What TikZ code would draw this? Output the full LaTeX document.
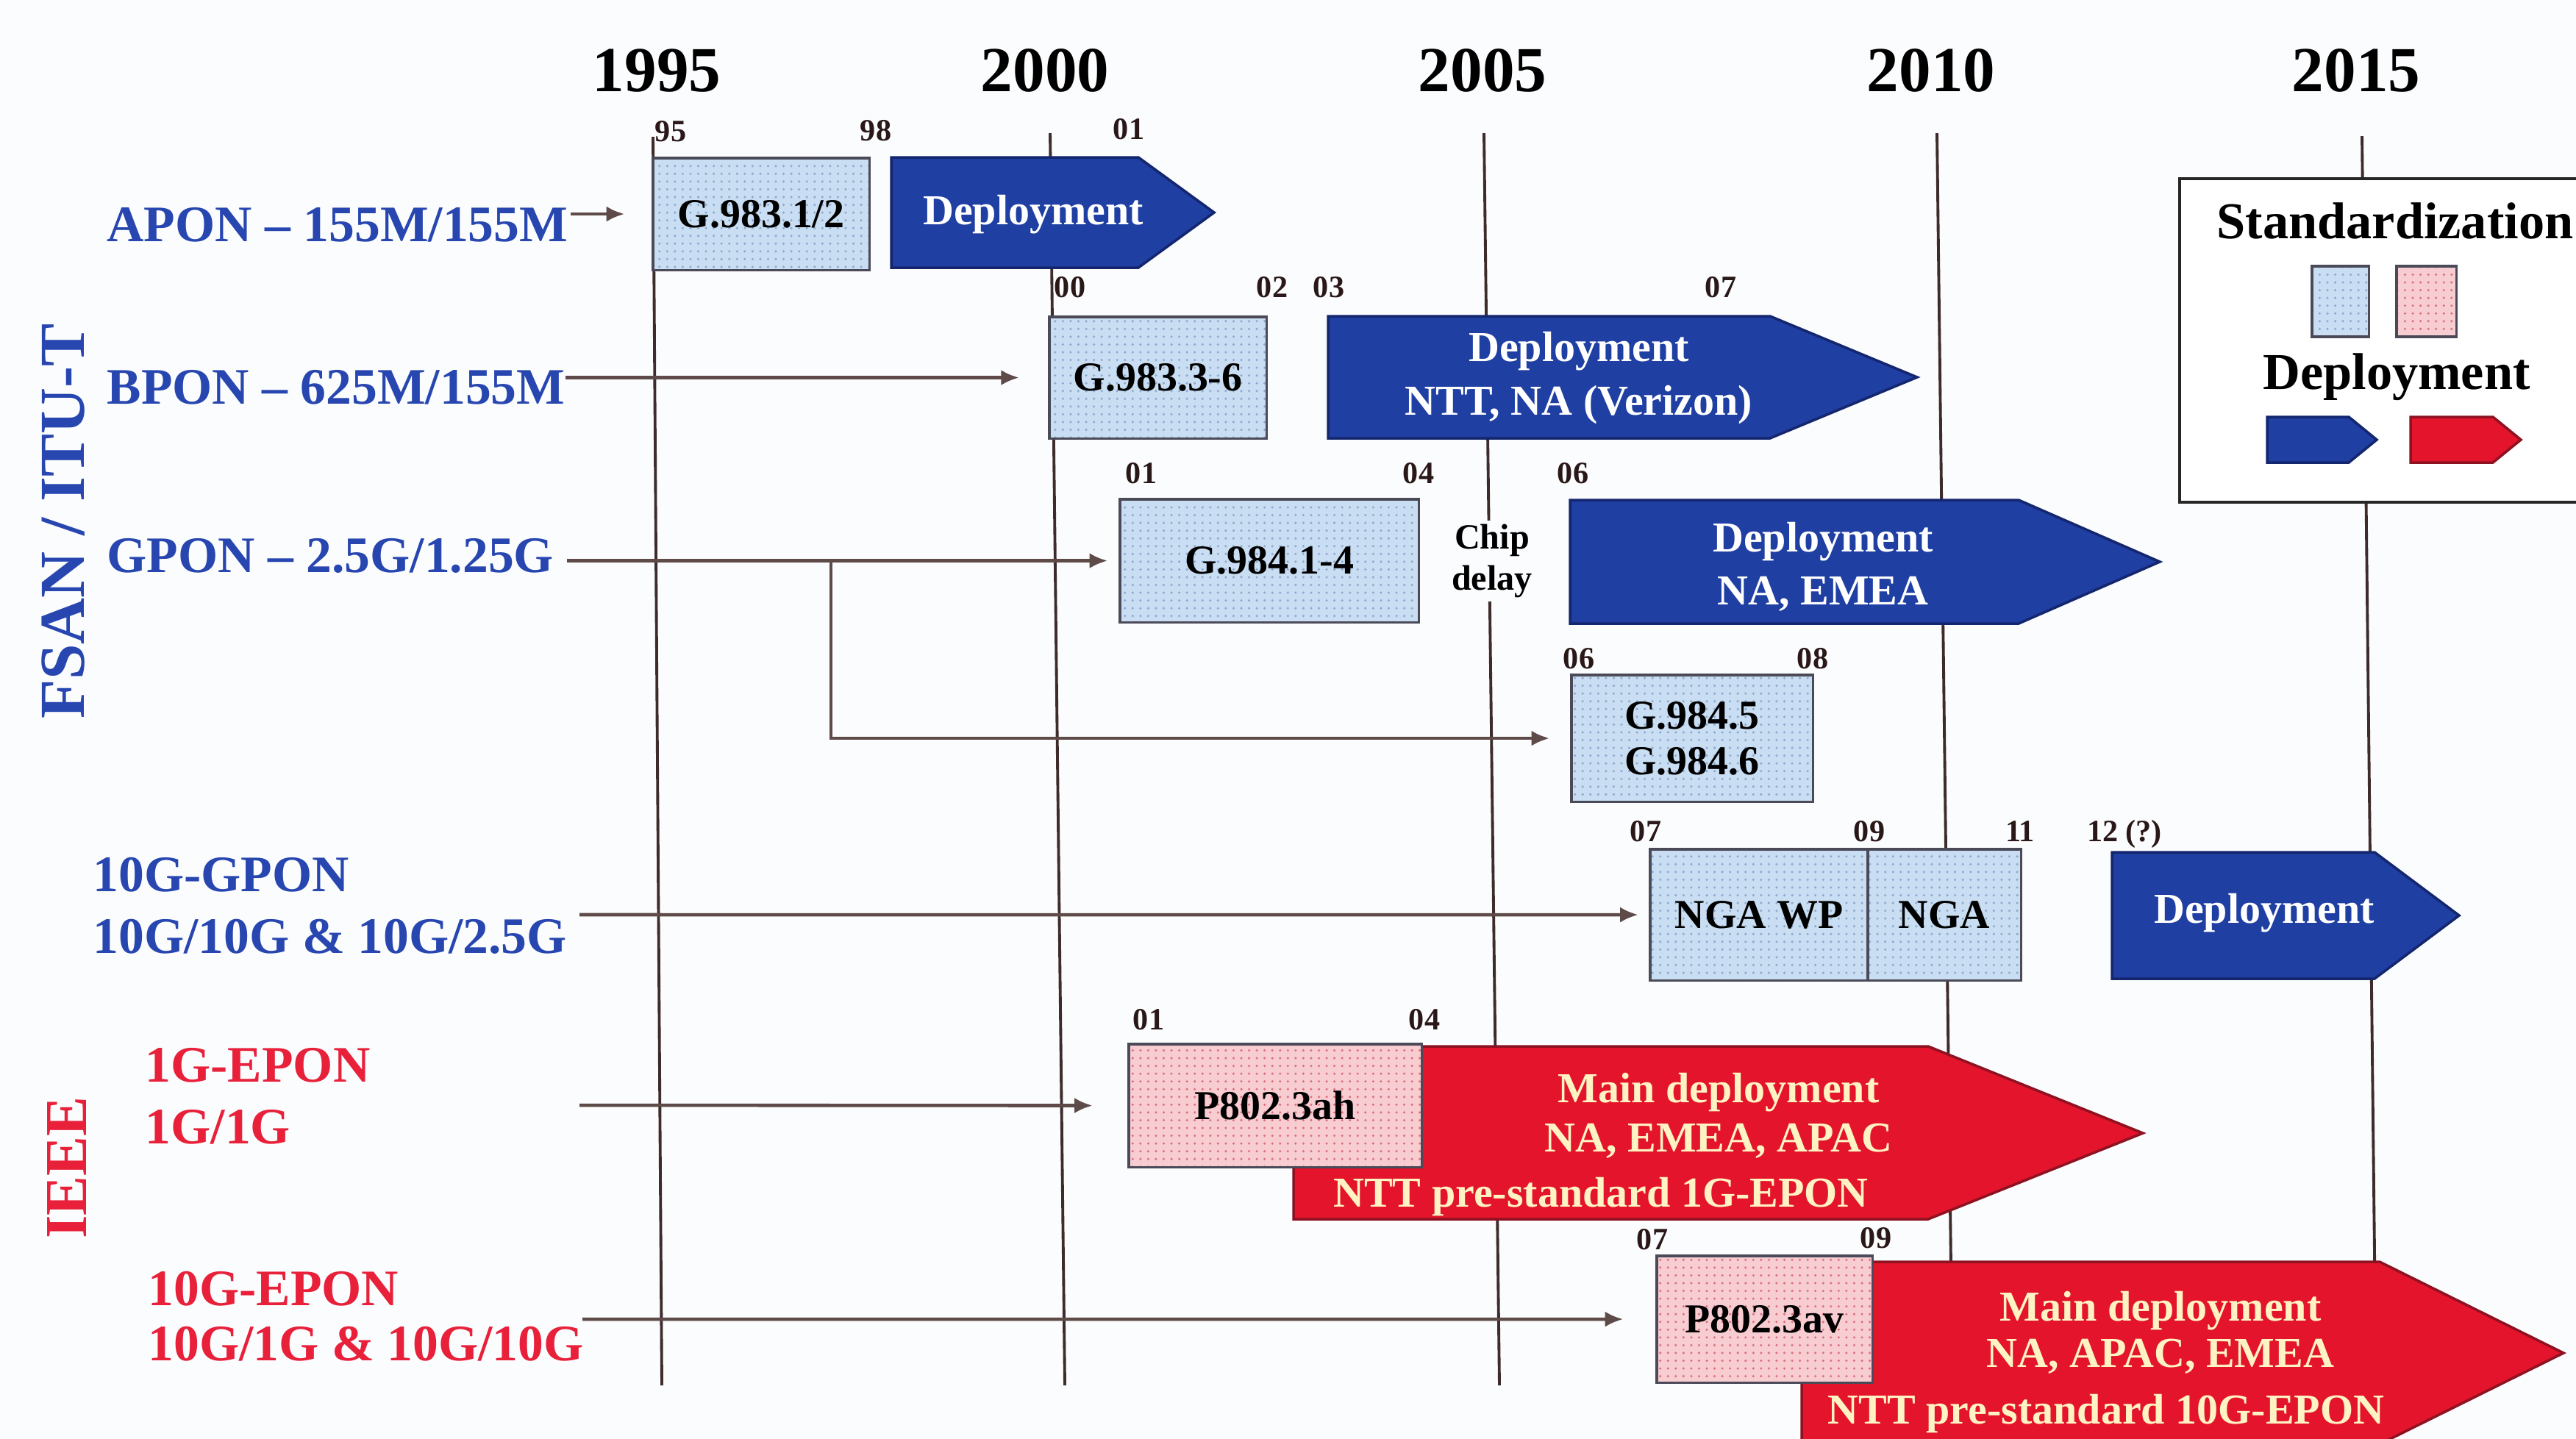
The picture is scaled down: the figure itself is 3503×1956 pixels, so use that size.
\documentclass[tikz,border=0pt]{standalone}
\usepackage{fontspec}
\setmainfont{Liberation Serif}
\usetikzlibrary{arrows.meta,patterns}

\definecolor{pageback}{HTML}{FBFCFD}
\definecolor{gridline}{HTML}{3E2C2C}
\definecolor{connline}{HTML}{5E4A48}
\definecolor{itublue}{HTML}{2746B0}
\definecolor{ieeered}{HTML}{E8203A}
\definecolor{depblue}{HTML}{1F3FA3}
\definecolor{depblueedge}{HTML}{13266E}
\definecolor{depred}{HTML}{E3142B}
\definecolor{depredge}{HTML}{8E1222}
\definecolor{stdbluefill}{HTML}{C9DEF2}
\definecolor{stdbluedot}{HTML}{8FAAD0}
\definecolor{stdredfill}{HTML}{F7CDD2}
\definecolor{stdreddot}{HTML}{E0707E}
\definecolor{stdedge}{HTML}{4A4A58}
\definecolor{creamtext}{HTML}{FFF3C4}
\definecolor{ticktext}{HTML}{2A1818}

\tikzset{
  yearlbl/.style={font=\fontsize{24.8}{26}\selectfont\bfseries, text=black,
    inner sep=0pt, text height=16.9pt, text depth=0pt},
  grouplbl/.style={font=\fontsize{24.8}{26}\selectfont\bfseries, rotate=90,
    inner sep=0pt, text height=16.9pt, text depth=0pt},
  ticklbl/.style={font=\fontsize{12}{12}\selectfont\bfseries, text=ticktext,
    inner sep=0pt, text height=8.2pt, text depth=0pt},
  rowlbl/.style={font=\fontsize{19.8}{24}\selectfont\bfseries, inner sep=0pt},
  itulbl/.style={rowlbl, text=itublue},
  ieeelbl/.style={rowlbl, text=ieeered},
  yearline/.style={draw=gridline, line width=1.1pt},
  conn/.style={draw=connline, line width=1.3pt, -{Latex[length=7pt,width=6pt]}},
  stdbox/.style={draw=stdedge, line width=0.9pt, inner sep=0pt, outer sep=0pt,
    anchor=north west, font=\fontsize{15.9}{17.5}\selectfont\bfseries,
    align=center, text=black},
  stditu/.style={stdbox, preaction={fill=stdbluefill}, pattern=dots,
    pattern color=stdbluedot},
  stdieee/.style={stdbox, preaction={fill=stdredfill}, pattern=dots,
    pattern color=stdreddot},
  depblueshape/.style={fill=depblue, draw=depblueedge, line width=1pt},
  depredshape/.style={fill=depred, draw=depredge, line width=1pt},
  deptext/.style={font=\fontsize{16.5}{20.5}\selectfont\bfseries, text=white,
    align=center, inner sep=0pt},
  redtext/.style={deptext, text=creamtext},
  chiptext/.style={font=\fontsize{13.7}{16}\selectfont\bfseries, text=black,
    align=center, inner sep=1.5pt, fill=pageback},
  legendframe/.style={draw=black!85, line width=1pt, fill=white},
  legendtitle/.style={font=\fontsize{20}{22}\selectfont\bfseries, text=black,
    inner sep=0pt}
}

\begin{document}
\begin{tikzpicture}[x=0.01cm, y=-0.01cm]
\useasboundingbox (0,0) rectangle (3503,1956);
\clip (0,0) rectangle (3503,1956);
\fill[pageback] (0,0) rectangle (3503,1956);

% ---- year grid lines ----
\coordinate (l95t) at (888,186);  \coordinate (l95b) at (900,1884);
\coordinate (l00t) at (1428,181); \coordinate (l00b) at (1448,1884);
\coordinate (l05t) at (2018,181); \coordinate (l05b) at (2039,1884);
\coordinate (l10t) at (2634,181); \coordinate (l10b) at (2655,1884);
\coordinate (l15t) at (3212,185); \coordinate (l15b) at (3231,1884);
\draw[yearline] (l95t) -- (l95b);
\draw[yearline] (l00t) -- (l00b);
\draw[yearline] (l05t) -- (l05b);
\draw[yearline] (l10t) -- (l10b);
\draw[yearline] (l15t) -- (l15b);

% ---- year headings ----
\node[yearlbl] (y1995) at (893,95) {1995};
\node[yearlbl] (y2000) at (1421,95) {2000};
\node[yearlbl] (y2005) at (2016,95) {2005};
\node[yearlbl] (y2010) at (2626,95) {2010};
\node[yearlbl] (y2015) at (3204,95) {2015};

% ---- standards bodies ----
\node[grouplbl, text=itublue] (fsan) at (85,709) {FSAN / ITU-T};
\node[grouplbl, text=ieeered, font=\fontsize{23}{24}\selectfont\bfseries,
      text height=15.6pt] (ieee) at (90,1588) {IEEE};

% ---- technology rows ----
\node[itulbl, anchor=base west] (apon) at (145,328) {APON -- 155M/155M};
\node[itulbl, anchor=base west] (bpon) at (145,549) {BPON -- 625M/155M};
\node[itulbl, anchor=base west] (gpon) at (145,778) {GPON -- 2.5G/1.25G};
\node[itulbl, anchor=west, align=left] (xgpon) at (126,1232)
  {10G-GPON\\10G/10G \& 10G/2.5G};
\node[ieeelbl, anchor=west, align=left] (epon) at (197,1491)
  {1G-EPON\\1G/1G};
\node[ieeelbl, anchor=west, align=left,
      font=\fontsize{19.8}{21.3}\selectfont\bfseries] (xepon) at (201,1790)
  {10G-EPON\\10G/1G \& 10G/10G};

% ---- deployment arrows ----
\filldraw[depblueshape] (1212,214) -- (1548,214) -- (1651,289) -- (1548,364) -- (1212,364) -- cycle;
\node[deptext] (apondep) at (1405,292) {Deployment};

\filldraw[depblueshape] (1806,430) -- (2407,430) -- (2607,513) -- (2407,596) -- (1806,596) -- cycle;
\node[deptext] (bpondep) at (2147,514) {Deployment\\NTT, NA (Verizon)};

\filldraw[depblueshape] (2135,680) -- (2745,680) -- (2937,764) -- (2745,848) -- (2135,848) -- cycle;
\node[deptext] (gpondep) at (2479,771) {Deployment\\NA, EMEA};

\filldraw[depblueshape] (2872,1159) -- (3229,1159) -- (3344,1245) -- (3229,1331) -- (2872,1331) -- cycle;
\node[deptext] (xgpondep) at (3079,1242) {Deployment};

\filldraw[depredshape] (1759,1423) -- (2622,1423) -- (2914,1541) -- (2622,1658) -- (1759,1658) -- cycle;
\node[redtext, font=\fontsize{16.5}{19}\selectfont\bfseries] (epondep) at (2337,1517)
  {Main deployment\\NA, EMEA, APAC};
\node[redtext] (eponntt) at (2177,1628) {NTT pre-standard 1G-EPON};

\filldraw[depredshape] (2450,1716) -- (3236,1716) -- (3486,1840) -- (3236,1964) -- (2450,1964) -- cycle;
\node[redtext, font=\fontsize{16.5}{18}\selectfont\bfseries] (xepondep) at (2938,1812)
  {Main deployment\\NA, APAC, EMEA};
\node[redtext] (xeponntt) at (2864,1923) {NTT pre-standard 10G-EPON};

% ---- standardization boxes ----
\node[stditu, minimum width=2.94cm, minimum height=1.52cm] (g9831) at (888,215) {G.983.1/2};
\node[stditu, minimum width=2.95cm, minimum height=1.65cm] (g9833) at (1427,431) {G.983.3-6};
\node[stditu, minimum width=4.06cm, minimum height=1.67cm] (g9841) at (1523,679) {G.984.1-4};
\node[stditu, minimum width=3.28cm, minimum height=1.72cm] (g9845) at (2137,918) {G.984.5\\G.984.6};
\node[stditu, minimum width=2.96cm, minimum height=1.78cm] (ngawp) at (2244,1155) {NGA WP};
\node[stditu, minimum width=2.08cm, minimum height=1.78cm] (nga) at (2540,1155) {NGA};
\node[stdieee, minimum width=3.98cm, minimum height=1.67cm] (p8023ah) at (1535,1420) {P802.3ah};
\node[stdieee, minimum width=2.93cm, minimum height=1.72cm] (p8023av) at (2253,1708) {P802.3av};

% ---- date ticks ----
\node[ticklbl] (t95)  at (912,178)   {95};
\node[ticklbl] (t98)  at (1191,177)  {98};
\node[ticklbl] (t01a) at (1535,175)  {01};
\node[ticklbl] (t00)  at (1455,390)  {00};
\node[ticklbl] (t02a) at (1730,390)  {02};
\node[ticklbl] (t03)  at (1807,390)  {03};
\node[ticklbl] (t07a) at (2340,390)  {07};
\node[ticklbl] (t01b) at (1552,643)  {01};
\node[ticklbl] (t04a) at (1929,643)  {04};
\node[ticklbl] (t06a) at (2139,643)  {06};
\node[ticklbl] (t06b) at (2147,895)  {06};
\node[ticklbl] (t08)  at (2465,895)  {08};
\node[ticklbl] (t07b) at (2238,1130) {07};
\node[ticklbl] (t09a) at (2542,1130) {09};
\node[ticklbl] (t11)  at (2747,1130) {11};
\node[ticklbl] (t12)  at (2889,1130) {12 (?)};
\node[ticklbl] (t01c) at (1562,1386) {01};
\node[ticklbl] (t04b) at (1937,1386) {04};
\node[ticklbl] (t07c) at (2247,1685) {07};
\node[ticklbl] (t09b) at (2551,1683) {09};

\node[chiptext] (chip) at (2029,763) {Chip\\delay};

% ---- connectors ----
\coordinate (gbranch) at (1130,762);
\coordinate (xgponstart) at (788,1244);
\coordinate (eponstart) at (788,1503);
\coordinate (xeponstart) at (792,1794);
\draw[conn, shorten <=1pt, shorten >=11pt] (apon.east |- g9831.west) -- (g9831.west);
\draw[conn, shorten >=11.7pt] (bpon.east |- g9833.west) -- (g9833.west);
\draw[conn, shorten <=5pt, shorten >=4.8pt] (gpon.east |- g9841.west) -- (g9841.west);
\draw[conn, shorten >=8.5pt] (gbranch) |- (g9845.west);
\draw[conn, shorten >=4.6pt] (xgponstart) -- (ngawp.west);
\draw[conn, shorten >=14pt] (eponstart) -- (p8023ah.west);
\draw[conn, shorten >=13pt] (xeponstart) -- (p8023av.west);

% ---- legend ----
\draw[legendframe] (2964,243) rectangle (3620,683);
\node[legendtitle, anchor=west] (legstd) at (3014,300) {Standardization};
\node[stditu, minimum width=0.77cm, minimum height=0.96cm] (legstdb) at (3144,362) {};
\node[stdieee, minimum width=0.81cm, minimum height=0.96cm] (legstdr) at (3259,362) {};
\node[legendtitle] (legdep) at (3259,513) {Deployment};
\filldraw[depblueshape] (3083,567) -- (3194,567) -- (3232,598) -- (3194,629) -- (3083,629) -- cycle;
\filldraw[depredshape] (3278,567) -- (3390,567) -- (3428,598) -- (3390,629) -- (3278,629) -- cycle;
\end{tikzpicture}
\end{document}
